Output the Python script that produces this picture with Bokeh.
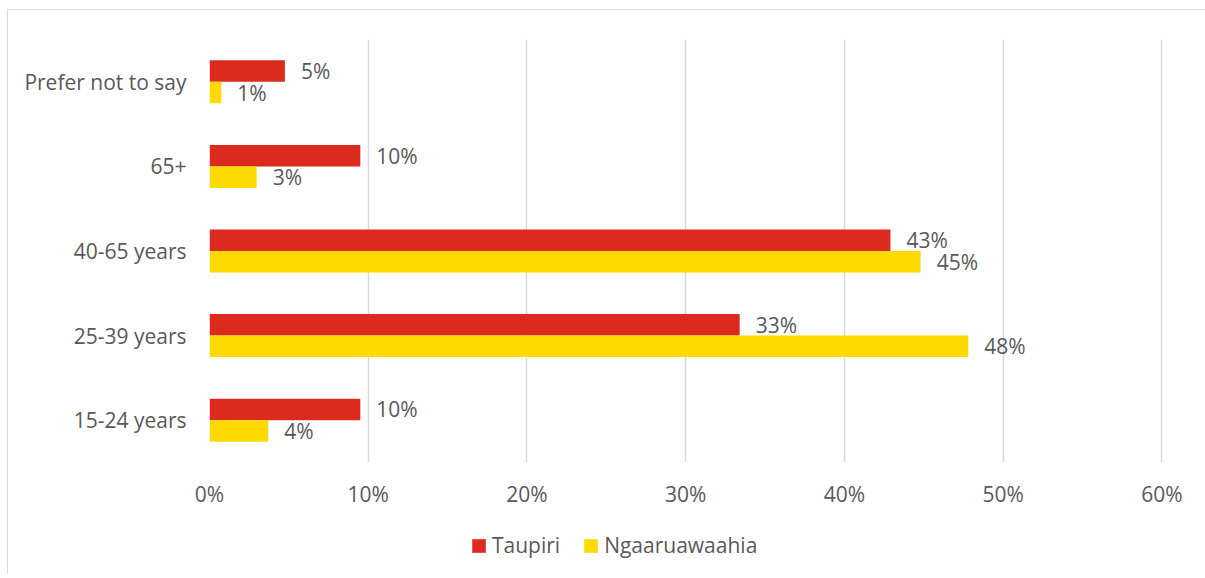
from bokeh.plotting import figure
from bokeh.layouts import column
from bokeh.models import (ColumnDataSource, FixedTicker, PrintfTickFormatter, Legend,
                          LegendItem, Range1d)
from bokeh.transform import dodge
from bokeh.core.properties import value
from bokeh.embed import file_html
from bokeh.resources import INLINE

categories = ["15-24 years", "25-39 years", "40-65 years", "65+", "Prefer not to say"]
taupiri = [9.5, 33.4, 42.9, 9.5, 4.75]
ngaaruawaahia = [3.7, 47.8, 44.8, 2.97, 0.74]
x_ticks = [0, 10, 20, 30, 40, 50, 60]

RED = "#DC2A1E"
YELLOW = "#FFDA00"
TXT = "#595959"
FONT = "Open Sans"
FS = "21px"

def lab(vals):
    return [f"{int(v + 0.5)}%" for v in vals]

src = ColumnDataSource(dict(cat=categories, t=taupiri, n=ngaaruawaahia,
                            tl=lab(taupiri), nl=lab(ngaaruawaahia)))

p = figure(width=1197, height=520, frame_width=954, frame_height=423,
           y_range=categories, x_range=(0, 60.1),
           output_backend="svg", toolbar_location=None,
           min_border_left=201, min_border_right=42, min_border_top=29, min_border_bottom=68)
p.outline_line_color = None

off = 0.127
hh = 0.254
p.hbar(y=dodge("cat", off, range=p.y_range), right="t", left=0, height=hh,
       source=src, fill_color=RED, line_color=None)
p.hbar(y=dodge("cat", -off, range=p.y_range), right="n", left=0, height=hh,
       source=src, fill_color=YELLOW, line_color=None)

p.text(x="t", y=dodge("cat", off, range=p.y_range), text="tl", source=src, x_offset=16,
       text_align="left", text_baseline="middle", text_color=TXT,
       text_font=value(FONT), text_font_size=FS)
p.text(x="n", y=dodge("cat", -off, range=p.y_range), text="nl", source=src, x_offset=16,
       text_align="left", text_baseline="middle", text_color=TXT,
       text_font=value(FONT), text_font_size=FS)

p.xaxis.ticker = FixedTicker(ticks=x_ticks)
p.xaxis.formatter = PrintfTickFormatter(format="%d%%")
for ax in (p.xaxis, p.yaxis):
    ax.axis_line_color = None
    ax.major_tick_line_color = None
    ax.minor_tick_line_color = None
    ax.major_label_text_color = TXT
    ax.major_label_text_font = FONT
    ax.major_label_text_font_size = FS
p.xaxis.major_label_standoff = 11
p.yaxis.major_label_standoff = 17

p.ygrid.grid_line_color = None
p.xgrid.grid_line_color = "#d9d9d9"
p.xgrid.grid_line_width = 1.5

# legend strip: same series with zero-height bars outside its x range, only the legend shows
lf = figure(width=1197, height=44, y_range=categories, x_range=Range1d(-1000, -990),
            x_axis_type=None, y_axis_type=None, output_backend="svg",
            toolbar_location=None, min_border=0)
lf.outline_line_color = None
lr1 = lf.hbar(y="cat", right="t", left=0, height=0, source=src,
              fill_color=RED, line_color=None)
lr2 = lf.hbar(y="cat", right="n", left=0, height=0, source=src,
              fill_color=YELLOW, line_color=None)

legend = Legend(items=[LegendItem(label="Taupiri", renderers=[lr1]),
                       LegendItem(label="Ngaaruawaahia", renderers=[lr2])],
                orientation="horizontal", location=(261, 15),
                label_text_color=TXT, label_text_font=FONT, label_text_font_size=FS,
                glyph_width=17, glyph_height=17, spacing=22, label_standoff=5,
                border_line_color=None, background_fill_alpha=0, margin=0, padding=0)
lf.add_layout(legend, "center")

layout = column(p, lf, spacing=0)
layout.styles = {"margin-left": "7px", "margin-top": "9px",
                 "border-left": "1px solid #d9d9d9", "border-top": "1px solid #d9d9d9"}

open("out.html", "w").write(file_html(layout, INLINE))
